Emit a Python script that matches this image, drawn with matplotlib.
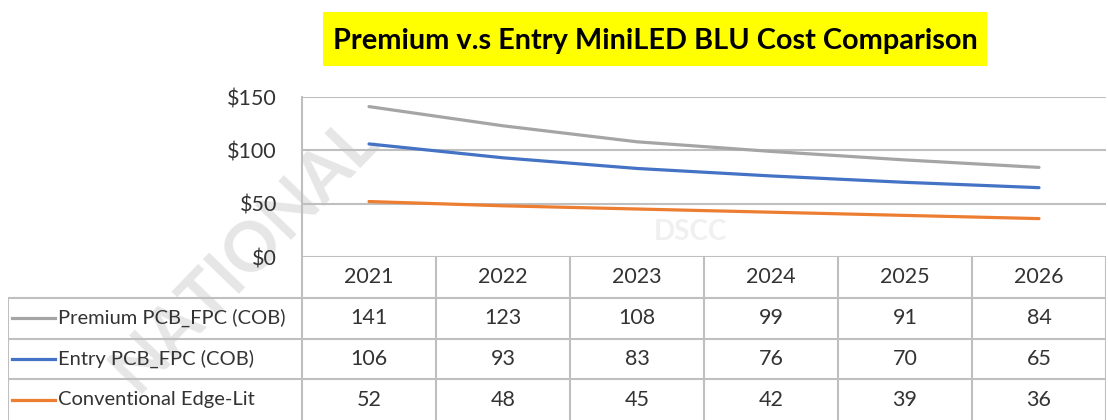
import matplotlib
matplotlib.use("Agg")
import matplotlib.pyplot as plt
from matplotlib.patches import Rectangle

# ── data ──────────────────────────────────────────────────────────────────────
YEARS    = ["2021", "2022", "2023", "2024", "2025", "2026"]
SERIES   = ["Premium PCB_FPC (COB)", "Entry PCB_FPC (COB)", "Conventional Edge-Lit"]
PREMIUM  = [141, 123, 108, 99, 91, 84]
ENTRY    = [106, 93, 83, 76, 70, 65]
EDGE_LIT = [52, 48, 45, 42, 39, 36]
Y_TICKS  = [0, 50, 100, 150]
COLORS   = ["#a5a5a5", "#4472c4", "#ed7d31"]
TITLE    = "Premium v.s Entry MiniLED BLU Cost Comparison"

plt.rcParams["font.family"] = ["Lato", "DejaVu Sans"]

W, H = 1108, 420
GRID = "#bfbfbf"
TXT = "#333333"
FS = 15.5
FS_LABEL = 14.5

fig = plt.figure(figsize=(W / 100, H / 100), dpi=100)

# ── title box ─────────────────────────────────────────────────────────────────
fig.patches.append(Rectangle((323 / W, 1 - 66 / H), (987 - 323) / W, (66 - 12) / H,
                             transform=fig.transFigure, facecolor="#ffff00",
                             edgecolor="none", zorder=-2))
fig.text(655 / W, 1 - 41 / H, TITLE, ha="center", va="center",
         fontsize=20.8, fontweight="bold", color="black")

# ── watermarks (behind everything) ────────────────────────────────────────────
fig.text(245 / W, 1 - 255 / H, "NATIONAL", ha="center", va="center",
         rotation=46, fontsize=49, fontweight="bold", color="#e6e6e6", zorder=-1)
fig.text(690 / W, 1 - 232 / H, "DSCC", ha="center", va="center",
         fontsize=20, fontweight="bold", color="#f0f0f0", zorder=-1)

# ── chart ─────────────────────────────────────────────────────────────────────
x_left, x_right = 302, 1106
ax = fig.add_axes([x_left / W, 1 - 257 / H, (x_right - x_left) / W, (257 - 97) / H])
ax.set_facecolor("none")
xs = list(range(len(YEARS)))
for vals, c in zip([PREMIUM, ENTRY, EDGE_LIT], COLORS):
    ax.plot(xs, vals, color=c, lw=2.3, solid_capstyle="round", zorder=3)
ax.set_xlim(-0.5, len(YEARS) - 0.5)
ax.set_ylim(0, 150)
ax.set_yticks(Y_TICKS)
ax.set_yticklabels([f"${v}" for v in Y_TICKS], fontsize=FS, color=TXT)
ax.set_xticks([])
ax.tick_params(axis="y", length=0, pad=18)
for v in Y_TICKS:
    ax.axhline(v, color=GRID, lw=1.5, zorder=1)
for s in ["top", "right", "bottom"]:
    ax.spines[s].set_visible(False)
ax.spines["left"].set_color(GRID)
ax.spines["left"].set_linewidth(1.5)

# ── data table ────────────────────────────────────────────────────────────────
LABEL_W = (302 - 8) / 134
tab = fig.add_axes([8 / W, 0, (x_right - 8) / W, (420 - 257) / H])
tab.set_facecolor("none")
tab.set_xlim(-0.5 - LABEL_W, len(YEARS) - 0.5)
tab.set_ylim(4, 0)
tab.axis("off")
x0 = -0.5 - LABEL_W
for i in range(len(YEARS) + 1):
    tab.plot([i - 0.5, i - 0.5], [0, 4], color=GRID, lw=1.5)
tab.plot([x0, x0], [1, 4], color=GRID, lw=1.5)
for r in [1, 2, 3]:
    tab.plot([x0, len(YEARS) - 0.5], [r, r], color=GRID, lw=1.5)
for i, yr in enumerate(YEARS):
    tab.text(i, 0.5, yr, ha="center", va="center", fontsize=FS, color=TXT)
for r, (name, vals, c) in enumerate(zip(SERIES, [PREMIUM, ENTRY, EDGE_LIT], COLORS), start=1):
    tab.plot([x0 + 0.03, x0 + 0.35], [r + 0.5, r + 0.5], color=c, lw=2.3)
    tab.text(x0 + 0.37, r + 0.5, name, ha="left", va="center", fontsize=FS_LABEL, color=TXT)
    for i, v in enumerate(vals):
        tab.text(i, r + 0.5, str(v), ha="center", va="center", fontsize=FS, color=TXT)

fig.savefig("out.png", dpi=100)
